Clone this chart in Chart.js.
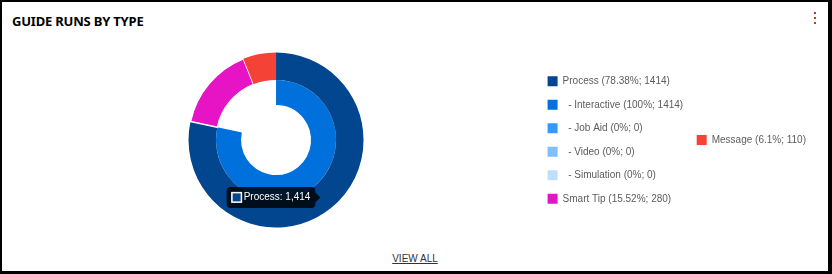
<html>
    <head>
        <title>Guide runs by type</title>
        <script src="https://cdn.jsdelivr.net/npm/chart.js@4/dist/chart.umd.min.js"></script>
        <style>
            body { margin: 0; background: #fff; font-family: 'Liberation Sans', Arial, sans-serif; }
            #card {
                position: absolute; left: 0; top: 0; width: 832px; height: 274px;
                box-sizing: border-box; background: #fff;
                border-top: 2px solid #000; border-left: 2px solid #000;
                border-right: 4px solid #000; border-bottom: 3px solid #000;
            }
            #title {
                position: absolute; left: 10px; top: 10px;
                font-family: 'Noto Sans', sans-serif; font-weight: bold; font-size: 13px;
                color: #000; letter-spacing: -0.2px;
            }
            .dot { position: absolute; left: 812px; width: 2px; height: 2px; background: #a9442a; }
            #viewall {
                position: absolute; left: 0; width: 826px; top: 251px; text-align: center;
                font-size: 10px; color: #333; text-decoration: underline;
            }
            .chart-container { position: absolute; left: 16px; top: 50px; width: 798px; height: 176px; }
        </style>
    </head>
    <body>
        <div id="card">
            <div id="title">GUIDE RUNS BY TYPE</div>
            <div class="dot" style="top: 10px"></div>
            <div class="dot" style="top: 15px"></div>
            <div class="dot" style="top: 20px"></div>
            <div class="chart-container">
                <canvas id="myChart"></canvas>
            </div>
            <div id="viewall">VIEW ALL</div>
        </div>
    <script type="text/javascript">
    var categories = ["Process", "Interactive", "Job Aid", "Video", "Simulation", "Smart Tip", "Message"];
    // outer ring: guide types
    var typeValues = [1414, 0, 0, 0, 0, 280, 110];
    // inner ring: process sub types (the rest of the ring is left empty)
    var subTypeValues = [0, 1414, 0, 0, 0, 280, 110];
    var shares = ["78.38%", "100%", "0%", "0%", "0%", "15.52%", "6.1%"];
    var counts = [1414, 1414, 0, 0, 0, 280, 110];
    var isSubType = [false, true, true, true, true, false, false];

    var colors = ['#01468e', '#0070dd', '#3399ff', '#80bfff', '#bfdfff', '#e614c4', '#f44336'];
    var innerColors = ['#01468e', '#0070dd', '#3399ff', '#80bfff', '#bfdfff', 'rgba(0,0,0,0)', 'rgba(0,0,0,0)'];

    Chart.defaults.font.family = "'Liberation Sans', Arial, sans-serif";

    var ctx = document.getElementById("myChart").getContext('2d');

    var myChart = new Chart(ctx, {
        type: 'doughnut',
        data: {
            labels: categories,
            datasets: [{
                data: typeValues,
                backgroundColor: colors,
                borderColor: '#fff',
                borderWidth: [0, 0, 0, 0, 0, 1.5, 0],
                weight: 1.1
            }, {
                data: subTypeValues,
                backgroundColor: innerColors,
                borderColor: '#fff',
                borderWidth: 0,
                weight: 1
            }]
        },
        options: {
            responsive: true,
            maintainAspectRatio: false,
            animation: false,
            radius: 87.5,
            cutout: '40%',
            layout: { padding: 0 },
            plugins: {
                legend: {
                    position: 'right',
                    align: 'center',
                    labels: {
                        boxWidth: 10,
                        boxHeight: 10,
                        padding: 13.5,
                        color: '#5c5c5c',
                        font: { size: 10 },
                        generateLabels: function(chart) {
                            var items = Chart.overrides.doughnut.plugins.legend.labels.generateLabels(chart);
                            items.forEach(function(item, i) {
                                item.text = (isSubType[i] ? '  - ' : '') + categories[i] + ' (' + shares[i] + '; ' + counts[i] + ')';
                                item.lineWidth = 0;
                                item.strokeStyle = item.fillStyle;
                            });
                            return items;
                        }
                    }
                },
                tooltip: {
                    xAlign: 'right',
                    yAlign: 'center',
                    bodyFont: { size: 10 },
                    padding: { left: 5, right: 5, top: 4.5, bottom: 4.5 },
                    cornerRadius: 4,
                    caretSize: 5,
                    callbacks: {
                        title: function() { return ''; },
                        label: function(item) { return item.label + ': ' + item.formattedValue; }
                    }
                }
            }
        }
    });

    myChart.tooltip.setActiveElements([{ datasetIndex: 0, index: 0 }], { x: 0, y: 0 });
    myChart.update();
    </script>
    </body>
</html>
